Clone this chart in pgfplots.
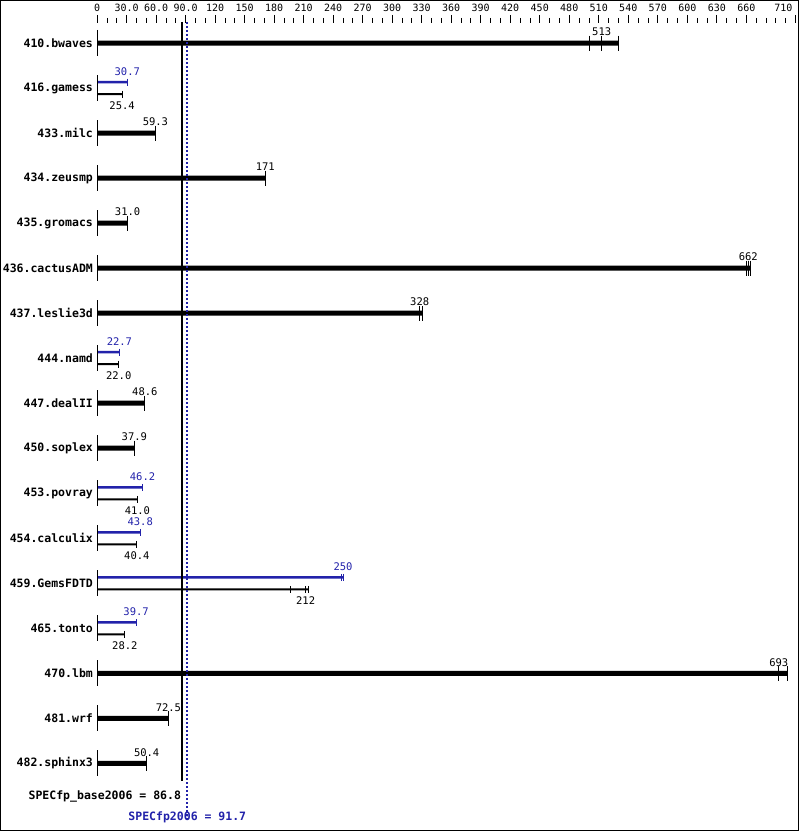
\documentclass[border=0pt]{standalone}
\usepackage{pgfplots}
\pgfplotsset{compat=1.18}
\usepackage{pgfplotstable}
\usepackage{fontspec}
\setmainfont{DejaVu Sans Mono}
\setmonofont{DejaVu Sans Mono}
\definecolor{specblue}{RGB}{34,34,170}

% benchmarks with base = peak: position, longest run, median, label
\pgfplotstableread{
y  max    med   lab
0  530    513   513
2  59.3   59.3  59.3
3  171    171   171
4  31.0   31.0  31.0
5  664    662   662
6  331    328   328
8  48.6   48.6  48.6
9  37.9   37.9  37.9
14 702    693   693
15 72.5   72.5  72.5
16 50.4   50.4  50.4
}\singlebars
\pgfplotstableread{
y  x
0  501
0  513
0  530
2  59.3
3  171
4  31.0
5  660
5  662
5  664
6  328
6  331
8  48.6
9  37.9
14 693
14 702
15 72.5
16 50.4
}\singleruns
% peak (blue)
\pgfplotstableread{
y  max   med   lab
1  30.7  30.7  30.7
7  22.7  22.7  22.7
10 46.2  46.2  46.2
11 43.8  43.8  43.8
12 250   250   250
13 39.7  39.7  39.7
}\peakbars
\pgfplotstableread{
y  x
1  30.7
7  22.7
10 46.2
11 43.8
12 248
12 250
13 39.7
}\peakruns
% base (black)
\pgfplotstableread{
y  max    med   lab
1  25.4   25.4  25.4
7  22.0   22.0  22.0
10 41.0   41.0  41.0
11 40.4   40.4  40.4
12 214.5  212   212
13 28.2   28.2  28.2
}\basebars
\pgfplotstableread{
y  x
1  25.4
7  22.0
10 41.0
11 40.4
12 197
12 212
12 214.5
13 28.2
}\baseruns
\pgfplotstableread{
y x
0 0
1 0
2 0
3 0
4 0
5 0
6 0
7 0
8 0
9 0
10 0
11 0
12 0
13 0
14 0
15 0
16 0
}\zeros

\begin{document}
\begin{tikzpicture}
\begin{axis}[
  scale only axis, width=698pt, height=807.5pt,
  xmin=0, xmax=710, ymin=-0.4444, ymax=17.5, y dir=reverse,
  clip=false,
  axis x line*=top, axis y line*=left, axis line style={draw=none},
  xtick={0,30,...,660},
  xticklabels={0,30.0,60.0,90.0,120,150,180,210,240,270,300,330,360,390,420,450,480,510,540,570,600,630,660},
  extra x ticks={710}, extra x tick labels={710},
  extra x tick style={xticklabel style={xshift=-12pt}},
  minor xtick={0,10,...,710},
  tick align=outside, major tick length=8pt, minor tick length=5pt,
  x tick style={black, line width=0.8pt},
  xticklabel style={font=\fontsize{10}{11}\selectfont, inner sep=1pt, yshift=2.5pt},
  ytick={0,...,16},
  yticklabels={410.bwaves,416.gamess,433.milc,434.zeusmp,435.gromacs,436.cactusADM,437.leslie3d,444.namd,447.dealII,450.soplex,453.povray,454.calculix,459.GemsFDTD,465.tonto,470.lbm,481.wrf,482.sphinx3},
  y tick style={draw=none},
  yticklabel style={font=\bfseries\fontsize{11.5}{12}\selectfont, inner sep=0pt, xshift=4pt},
]
% frame
\draw[black, line width=1pt] (axis cs:-98.2,-0.944) rectangle (axis cs:713.5,17.49);

% bars
\addplot[xbar, bar shift=0pt, bar width=5pt, fill=black, draw=none] table[x=max, y=y]{\singlebars};
\addplot[xbar, bar shift=0pt, bar width=2.5pt, fill=specblue, draw=none] table[x=max, y expr=\thisrow{y}-0.1333]{\peakbars};
\addplot[xbar, bar shift=0pt, bar width=2pt, fill=black, draw=none] table[x=max, y expr=\thisrow{y}+0.1333]{\basebars};

% run ticks
\addplot[only marks, mark=|, mark size=7.5pt, mark options={line width=1pt, black}] table[x=x, y=y]{\singleruns};
\addplot[only marks, mark=|, mark size=3.5pt, mark options={line width=1pt, specblue}] table[x=x, y expr=\thisrow{y}-0.1333]{\peakruns};
\addplot[only marks, mark=|, mark size=3.5pt, mark options={line width=1pt, black}] table[x=x, y expr=\thisrow{y}+0.1333]{\baseruns};
\addplot[only marks, mark=|, mark size=13pt, mark options={line width=1pt, black}] table[x=x, y=y]{\zeros};

% value labels
\addplot[draw=none, mark=none, point meta=explicit symbolic, nodes near coords,
  every node near coord/.style={anchor=south, inner sep=0pt, yshift=7pt, black, font=\fontsize{10.5}{11}\selectfont}]
  table[x=med, y=y, meta=lab]{\singlebars};
\addplot[draw=none, mark=none, point meta=explicit symbolic, nodes near coords,
  every node near coord/.style={anchor=south, inner sep=0pt, yshift=6pt, specblue, font=\fontsize{10.5}{11}\selectfont}]
  table[x=med, y expr=\thisrow{y}-0.1333, meta=lab]{\peakbars};
\addplot[draw=none, mark=none, point meta=explicit symbolic, nodes near coords,
  every node near coord/.style={anchor=north, inner sep=0pt, yshift=-7pt, black, font=\fontsize{10.5}{11}\selectfont}]
  table[x=med, y expr=\thisrow{y}+0.1333, meta=lab]{\basebars};

% overall scores
\addplot[black, line width=2pt] coordinates {(86.8,-0.4667) (86.8,16.38)};
\addplot[specblue, line width=2pt, dash pattern=on 2pt off 2pt] coordinates {(91.7,-0.4667) (91.7,17.27)};
\node[anchor=east, inner sep=0pt, font=\bfseries\fontsize{11.5}{12}\selectfont] at (axis cs:85.5,16.73) {SPECfp\_base2006 = 86.8};
\node[anchor=center, inner sep=0pt, font=\bfseries\fontsize{11.5}{12}\selectfont, text=specblue] at (axis cs:91.7,17.2) {SPECfp2006 = 91.7};
\end{axis}
\end{tikzpicture}
\end{document}
